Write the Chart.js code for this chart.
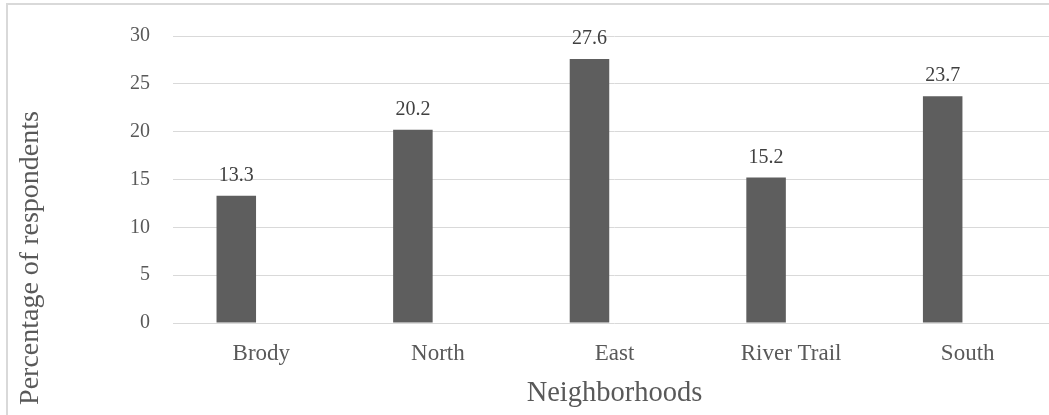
<!DOCTYPE html>
<html>
<head>
<meta charset="utf-8">
<script src="https://cdn.jsdelivr.net/npm/chart.js@4"></script>
<style>
  html, body { margin: 0; padding: 0; background: #fff; overflow: hidden; }
  #wrap { position: relative; width: 1049px; height: 415px; overflow: hidden; }
  #frame { position: absolute; left: 6px; top: 3px; width: 2000px; height: 2000px;
           border-left: 2px solid #d9d9d9; border-top: 2px solid #d9d9d9; pointer-events: none; }
  canvas { position: absolute; left: 0; top: 0; }
</style>
</head>
<body>
<div id="wrap">
  <canvas id="chart" width="1057" height="415"></canvas>
  <div id="frame"></div>
</div>
<script>
// Data
const neighborhoods = ['Brody', 'North', 'East', 'River Trail', 'South'];
const respondents = [13.3, 20.2, 27.6, 15.2, 23.7];
const emptySeries = [null, null, null, null, null]; // second (blank) series keeps bars off-centre
const yTicks = [0, 5, 10, 15, 20, 25, 30];
const yTitle = 'Percentage of respondents';

const textColor = '#595959';
Chart.defaults.font.family = "'Liberation Serif', serif";
Chart.defaults.color = textColor;

// value labels above bars + y axis title (sits lower than the plot centre)
const extras = {
  id: 'extras',
  afterDatasetsDraw(chart) {
    const ctx = chart.ctx;
    const meta = chart.getDatasetMeta(0);
    ctx.save();
    ctx.font = "20px 'Liberation Serif', serif";
    ctx.fillStyle = '#404040';
    ctx.textAlign = 'center';
    ctx.textBaseline = 'alphabetic';
    meta.data.forEach((bar, i) => {
      ctx.fillText(respondents[i].toFixed(1), bar.x, bar.y - 15);
    });
    ctx.restore();

    ctx.save();
    ctx.translate(31, 258);
    ctx.rotate(-Math.PI / 2);
    ctx.font = "28px 'Liberation Serif', serif";
    ctx.fillStyle = textColor;
    ctx.textAlign = 'center';
    ctx.textBaseline = 'middle';
    ctx.fillText(yTitle, 0, 0);
    ctx.restore();
  }
};

new Chart(document.getElementById('chart'), {
  type: 'bar',
  data: {
    labels: neighborhoods,
    datasets: [
      { label: 'Percentage', data: respondents, backgroundColor: '#5e5e5e',
        categoryPercentage: 0.5666, barPercentage: 0.79 },
      { label: '', data: emptySeries, backgroundColor: '#a5a5a5',
        categoryPercentage: 0.5666, barPercentage: 0.79 }
    ]
  },
  options: {
    responsive: false,
    animation: false,
    layout: { padding: { left: 8, top: 36, right: 1, bottom: 0 } },
    plugins: { legend: { display: false }, tooltip: { enabled: false } },
    scales: {
      x: {
        afterFit: s => { s.height = 92; },
        grid: { display: false, drawTicks: false },
        border: { display: false },
        ticks: { font: { size: 23 }, padding: 17, color: textColor },
        title: { display: true, text: 'Neighborhoods', font: { size: 28.5 },
                 padding: { top: 0, bottom: 4 }, color: textColor }
      },
      y: {
        min: 0, max: 30,
        afterBuildTicks: s => { s.ticks = yTicks.map(v => ({ value: v })); },
        afterFit: s => { s.width = 165; },
        grid: { color: '#d9d9d9', lineWidth: 1, drawTicks: false },
        border: { display: false },
        ticks: { font: { size: 20 }, padding: 23, color: textColor },
        title: { display: false }
      }
    }
  },
  plugins: [extras]
});
</script>
</body>
</html>
